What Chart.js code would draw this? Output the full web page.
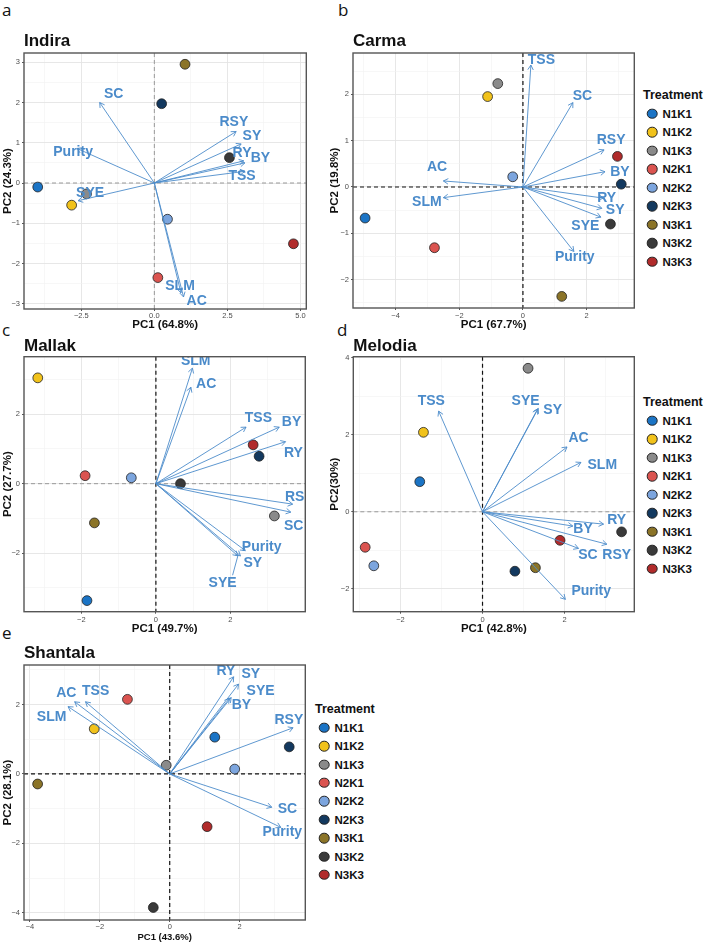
<!DOCTYPE html>
<html>
<head>
<meta charset="utf-8">
<script src="https://cdn.jsdelivr.net/npm/chart.js@4.4.1/dist/chart.umd.min.js"></script>
<style>
  body { margin: 0; background: #fff; width: 707px; height: 944px; position: relative; overflow: hidden; font-family: "Liberation Sans", Arial, sans-serif; }
  canvas { position: absolute; }
  .tag { position: absolute; font-family: "Open Sans", sans-serif; font-size: 17px; color: #111; line-height: 20px; }
  .lg-title { position: absolute; font-weight: bold; font-size: 12.5px; color: #111; white-space: nowrap; transform: translateY(-50%); }
  .lg-dot { position: absolute; width: 8.6px; height: 8.6px; border-radius: 50%; border: 0.8px solid #222; transform: translate(-50%, -50%); }
  .lg-text { position: absolute; font-weight: bold; font-size: 11.5px; color: #111; transform: translateY(-50%); white-space: nowrap; }
</style>
</head>
<body>
<div class="tag" style="left:2px;top:0px">a</div>
<div class="tag" style="left:338px;top:0px">b</div>
<div class="tag" style="left:2px;top:320px">c</div>
<div class="tag" style="left:337px;top:320px">d</div>
<div class="tag" style="left:2px;top:623px">e</div>

<canvas id="indira" width="312" height="306" style="left:0px;top:28px"></canvas>
<canvas id="carma" width="313" height="306" style="left:327px;top:28px"></canvas>
<canvas id="mallak" width="311" height="304" style="left:0px;top:334px"></canvas>
<canvas id="melodia" width="313" height="304" style="left:327px;top:334px"></canvas>
<canvas id="shantala" width="311" height="306" style="left:0px;top:638px"></canvas>

<div id="legendB"></div>
<div id="legendD"></div>
<div id="legendE"></div>

<script>
// Treatments (shared by all panels)
const treatments = ['N1K1', 'N1K2', 'N1K3', 'N2K1', 'N2K2', 'N2K3', 'N3K1', 'N3K2', 'N3K3'];
const treatmentColors = ['#1b74c5', '#f1c21b', '#8a8a8a', '#db5450', '#7ca5de', '#13395f', '#8b7428', '#3a3a3a', '#b12b2b'];

// Indira
const pcIndiraX = [-3.99, -2.83, -2.32, 0.12, 0.45, 0.25, 1.05, 2.57, 4.76];
const pcIndiraY = [-0.10, -0.55, -0.27, -2.35, -0.90, 1.97, 2.95, 0.63, -1.51];
const varsIndira = ['SC', 'Purity', 'SYE', 'RSY', 'SY', 'RY', 'BY', 'TSS', 'SLM', 'AC'];
const arrowIndiraX = [-1.87, -2.65, -2.61, 2.80, 2.97, 3.06, 3.10, 3.10, 0.91, 1.00];
const arrowIndiraY = [2.00, 0.86, -0.44, 1.28, 0.97, 0.55, 0.50, 0.29, -2.73, -2.83];
const labelIndiraX = [-1.39, -2.78, -2.20, 2.72, 3.34, 3.00, 3.63, 3.00, 0.88, 1.45];
const labelIndiraY = [2.20, 0.76, -0.25, 1.51, 1.17, 0.74, 0.61, 0.16, -2.55, -2.94];
const xTicksIndira = [-2.5, 0, 2.5, 5];
const xTickLabelsIndira = ['\u22122.5', '0.0', '2.5', '5.0'];
const yTicksIndira = [-3, -2, -1, 0, 1, 2, 3];
const yTickLabelsIndira = ['\u22123', '\u22122', '\u22121', '0', '1', '2', '3'];

// Carma
const pcCarmaX = [-4.96, -1.11, -0.79, -2.78, -0.32, 3.09, 1.22, 2.75, 2.97];
const pcCarmaY = [-0.67, 1.95, 2.23, -1.31, 0.22, 0.06, -2.36, -0.80, 0.66];
const varsCarma = ['TSS', 'SC', 'RSY', 'BY', 'RY', 'SY', 'SYE', 'Purity', 'AC', 'SLM'];
const arrowCarmaX = [0.25, 1.57, 2.55, 2.58, 2.53, 2.48, 2.45, 1.60, -2.50, -2.50];
const arrowCarmaY = [2.63, 1.82, 0.80, 0.33, -0.24, -0.46, -0.65, -1.39, 0.13, -0.23];
const labelCarmaX = [0.58, 1.87, 2.77, 3.05, 2.63, 2.90, 1.96, 1.63, -2.70, -3.02];
const labelCarmaY = [2.74, 1.95, 1.00, 0.33, -0.23, -0.50, -0.85, -1.52, 0.42, -0.33];
const xTicksCarma = [-4, -2, 0, 2];
const xTickLabelsCarma = ['\u22124', '\u22122', '0', '2'];
const yTicksCarma = [-2, -1, 0, 1, 2];
const yTickLabelsCarma = ['\u22122', '\u22121', '0', '1', '2'];

// Mallak
const pcMallakX = [-1.85, -3.17, 3.18, -1.90, -0.66, 2.77, -1.65, 0.66, 2.61];
const pcMallakY = [-3.37, 3.05, -0.93, 0.23, 0.17, 0.79, -1.13, 0.00, 1.12];
const varsMallak = ['SLM', 'AC', 'TSS', 'BY', 'RY', 'RSY', 'SC', 'Purity', 'SY', 'SYE'];
const arrowMallakX = [0.98, 0.94, 2.42, 3.31, 3.48, 3.67, 3.62, 2.40, 2.27, 2.20];
const arrowMallakY = [3.33, 2.78, 1.63, 1.63, 1.21, -0.59, -0.82, -1.93, -2.08, -2.08];
const labelMallakX = [1.07, 1.35, 2.75, 3.64, 3.69, 3.85, 3.70, 2.84, 2.60, 1.79];
const labelMallakY = [3.52, 2.86, 1.88, 1.77, 0.89, -0.39, -1.21, -1.82, -2.29, -2.87];
const xTicksMallak = [-2, 0, 2];
const xTickLabelsMallak = ['\u22122', '0', '2'];
const yTicksMallak = [-2, 0, 2];
const yTickLabelsMallak = ['\u22122', '0', '2'];

// Melodia
const pcMelodiaX = [-1.53, -1.44, 1.11, -2.86, -2.65, 0.79, 1.29, 3.39, 1.89];
const pcMelodiaY = [0.78, 2.06, 3.72, -0.92, -1.40, -1.54, -1.45, -0.52, -0.74];
const varsMelodia = ['TSS', 'SYE', 'SY', 'AC', 'SLM', 'RY', 'BY', 'RSY', 'SC', 'Purity'];
const arrowMelodiaX = [-1.07, 1.34, 1.36, 2.06, 2.40, 2.95, 2.20, 3.03, 2.34, 2.02];
const arrowMelodiaY = [2.61, 2.66, 2.68, 1.68, 1.28, -0.32, -0.37, -0.84, -0.95, -2.27];
const labelMelodiaX = [-1.25, 1.05, 1.71, 2.34, 2.92, 3.27, 2.45, 3.27, 2.57, 2.65];
const labelMelodiaY = [2.87, 2.87, 2.63, 1.92, 1.21, -0.22, -0.46, -1.12, -1.12, -2.05];
const xTicksMelodia = [-2, 0, 2];
const xTickLabelsMelodia = ['\u22122', '0', '2'];
const yTicksMelodia = [-2, 0, 2, 4];
const yTickLabelsMelodia = ['\u22122', '0', '2', '4'];

// Shantala
const pcShantalaX = [1.29, -2.16, -0.10, -1.21, 1.86, 3.42, -3.78, -0.47, 1.07];
const pcShantalaY = [1.06, 1.30, 0.25, 2.15, 0.14, 0.78, -0.29, -3.85, -1.52];
const varsShantala = ['AC', 'TSS', 'SLM', 'RY', 'SY', 'SYE', 'BY', 'RSY', 'SC', 'Purity'];
const arrowShantalaX = [-2.72, -2.41, -2.91, 1.83, 1.97, 1.76, 1.71, 3.53, 2.92, 3.18];
const arrowShantalaY = [2.08, 2.08, 1.94, 2.80, 2.59, 2.20, 2.18, 1.33, -0.96, -1.54];
const labelShantalaX = [-2.96, -2.12, -3.38, 1.61, 2.32, 2.60, 2.05, 3.41, 3.37, 3.22];
const labelShantalaY = [2.33, 2.39, 1.65, 2.95, 2.87, 2.40, 1.97, 1.56, -1.01, -1.69];
const xTicksShantala = [-4, -2, 0, 2];
const xTickLabelsShantala = ['\u22124', '\u22122', '0', '2'];
const yTicksShantala = [-4, -2, 0, 2];
const yTickLabelsShantala = ['\u22124', '\u22122', '0', '2'];

const FONT = '"Liberation Sans", Arial, sans-serif';
const ARROW_COLOR = '#4d8ccb';
const LABEL_COLOR = '#4b8bca';

// major + minor (half-step) ticks, minors carry no label
function gridTicks(majors, min, max) {
    const step = majors[1] - majors[0];
    const out = [];
    for (let v = majors[0] - step; v <= majors[majors.length - 1] + step + 1e-9; v += step / 2) {
        if (v >= min - 1e-9 && v <= max + 1e-9) {
            out.push({ value: v, isMajor: majors.some(m => Math.abs(m - v) < 1e-6) });
        }
    }
    return out;
}

// zero lines, arrows, labels and panel border
const biplotPlugin = {
    id: 'biplot',
    beforeDatasetsDraw(chart, args, o) {
        const { ctx, chartArea: a, scales: { x, y } } = chart;
        ctx.save();
        ctx.beginPath();
        ctx.rect(a.left, a.top, a.right - a.left, a.bottom - a.top);
        ctx.clip();
        ctx.setLineDash([4, 3]);
        const x0 = x.getPixelForValue(0);
        const y0 = y.getPixelForValue(0);
        ctx.lineWidth = o.vColor === '#111' ? 1.2 : 1;
        ctx.strokeStyle = o.vColor;
        ctx.beginPath(); ctx.moveTo(x0, a.top); ctx.lineTo(x0, a.bottom); ctx.stroke();
        ctx.lineWidth = o.hColor === '#111' ? 1.2 : 1;
        ctx.strokeStyle = o.hColor;
        ctx.beginPath(); ctx.moveTo(a.left, y0); ctx.lineTo(a.right, y0); ctx.stroke();
        ctx.restore();
    },
    afterDatasetsDraw(chart, args, o) {
        const { ctx, chartArea: a, scales: { x, y } } = chart;
        const x0 = x.getPixelForValue(0);
        const y0 = y.getPixelForValue(0);
        ctx.save();
        ctx.beginPath();
        ctx.rect(a.left, a.top, a.right - a.left, a.bottom - a.top);
        ctx.clip();
        ctx.strokeStyle = ARROW_COLOR;
        ctx.lineWidth = 0.9;
        o.vars.forEach((v, i) => {
            const x1 = x.getPixelForValue(o.ax[i]);
            const y1 = y.getPixelForValue(o.ay[i]);
            const ang = Math.atan2(y1 - y0, x1 - x0);
            const len = 5.5;
            ctx.beginPath();
            ctx.moveTo(x0, y0);
            ctx.lineTo(x1, y1);
            ctx.moveTo(x1 - len * Math.cos(ang - Math.PI / 6), y1 - len * Math.sin(ang - Math.PI / 6));
            ctx.lineTo(x1, y1);
            ctx.lineTo(x1 - len * Math.cos(ang + Math.PI / 6), y1 - len * Math.sin(ang + Math.PI / 6));
            ctx.stroke();
            if ((o.segments || []).includes(v)) {
                ctx.beginPath();
                ctx.moveTo(x1, y1);
                ctx.lineTo(x.getPixelForValue(o.lx[i]) + 10, y.getPixelForValue(o.ly[i]) - 8);
                ctx.stroke();
            }
        });
        ctx.fillStyle = LABEL_COLOR;
        ctx.font = 'bold 14px ' + FONT;
        ctx.textAlign = 'center';
        ctx.textBaseline = 'middle';
        o.vars.forEach((v, i) => {
            ctx.fillText(v, x.getPixelForValue(o.lx[i]), y.getPixelForValue(o.ly[i]));
        });
        ctx.restore();
    },
    afterDraw(chart) {
        const { ctx, chartArea: a } = chart;
        ctx.save();
        ctx.strokeStyle = '#555';
        ctx.lineWidth = 1.4;
        ctx.strokeRect(a.left, a.top, a.right - a.left, a.bottom - a.top);
        ctx.restore();
    }
};

function makeBiplot(id, p) {
    const ctx = document.getElementById(id).getContext('2d');
    const tickLabel = (majors, labels) => function (value) {
        const i = majors.findIndex(m => Math.abs(m - value) < 1e-6);
        return i >= 0 ? labels[i] : '';
    };
    const gridOpts = {
        color: c => (c.tick && c.tick.isMajor ? '#e4e4e4' : '#f1f1f1'),
        lineWidth: c => (c.tick && c.tick.isMajor ? 0.9 : 0.6),
        tickColor: c => (c.tick && c.tick.isMajor ? '#444' : 'rgba(0,0,0,0)'),
        tickLength: 2,
        drawOnChartArea: true
    };
    return new Chart(ctx, {
        type: 'scatter',
        data: {
            datasets: [{
                label: 'Treatment',
                data: p.px.map((v, i) => ({ x: v, y: p.py[i] })),
                backgroundColor: treatmentColors,
                borderColor: '#222',
                borderWidth: 0.8,
                pointRadius: 4.9,
                pointHoverRadius: 4.9
            }]
        },
        options: {
            responsive: false,
            animation: false,
            events: [],
            layout: { padding: { left: 0, right: p.padRight, top: 0, bottom: 0 } },
            plugins: {
                legend: { display: false },
                tooltip: { enabled: false },
                title: {
                    display: true,
                    text: p.title,
                    align: 'start',
                    fullSize: false,
                    color: '#111',
                    font: { family: FONT, size: 17, weight: 'bold', lineHeight: 1.2 },
                    padding: p.titlePad
                },
                biplot: {
                    vars: p.vars, ax: p.ax, ay: p.ay, lx: p.lx, ly: p.ly,
                    vColor: p.vColor, hColor: p.hColor, segments: p.segments
                }
            },
            scales: {
                x: {
                    type: 'linear',
                    min: p.xRange[0],
                    max: p.xRange[1],
                    afterBuildTicks: s => { s.ticks = gridTicks(p.xTicks, p.xRange[0], p.xRange[1]); },
                    afterFit: s => { s.height = p.xAxisH; s.paddingLeft = 0; s.paddingRight = 0; },
                    ticks: {
                        autoSkip: false, maxRotation: 0, padding: p.xTickPad, color: '#4d4d4d',
                        font: { family: FONT, size: 7.5 },
                        callback: tickLabel(p.xTicks, p.xTickLabels)
                    },
                    grid: gridOpts,
                    border: { display: false },
                    title: {
                        display: true, text: p.xTitle, color: '#111',
                        font: { family: FONT, size: p.xTitleSize, weight: 'bold', lineHeight: 1.2 },
                        padding: { top: 0, bottom: p.xTitlePadB }
                    }
                },
                y: {
                    type: 'linear',
                    min: p.yRange[0],
                    max: p.yRange[1],
                    afterBuildTicks: s => { s.ticks = gridTicks(p.yTicks, p.yRange[0], p.yRange[1]); },
                    afterFit: s => { s.width = p.yAxisW; s.paddingTop = 0; s.paddingBottom = 0; },
                    ticks: {
                        autoSkip: false, padding: 2, color: '#4d4d4d',
                        font: { family: FONT, size: 7.5 },
                        callback: tickLabel(p.yTicks, p.yTickLabels)
                    },
                    grid: gridOpts,
                    border: { display: false },
                    title: {
                        display: true, text: p.yTitle, color: '#111',
                        font: { family: FONT, size: 11.5, weight: 'bold', lineHeight: 1.2 },
                        padding: { top: 1, bottom: 0 }
                    }
                }
            }
        },
        plugins: [biplotPlugin]
    });
}

makeBiplot('indira', {
    title: 'Indira', titlePad: { top: 3.6, bottom: 1 },
    px: pcIndiraX, py: pcIndiraY, vars: varsIndira,
    ax: arrowIndiraX, ay: arrowIndiraY, lx: labelIndiraX, ly: labelIndiraY,
    xRange: [-4.46, 5.2], yRange: [-3.13, 3.23],
    xTicks: xTicksIndira, xTickLabels: xTickLabelsIndira, yTicks: yTicksIndira, yTickLabels: yTickLabelsIndira,
    xTitle: 'PC1 (64.8%)', yTitle: 'PC2 (24.3%)', xTitleSize: 11.5, xTitlePadB: 2.1,
    xAxisH: 25, yAxisW: 24, padRight: 4, xTickPad: 0,
    vColor: '#999', hColor: '#999'
});

makeBiplot('carma', {
    title: 'Carma', titlePad: { top: 3.6, bottom: 1 },
    px: pcCarmaX, py: pcCarmaY, vars: varsCarma,
    ax: arrowCarmaX, ay: arrowCarmaY, lx: labelCarmaX, ly: labelCarmaY,
    xRange: [-5.34, 3.5], yRange: [-2.61, 2.89],
    xTicks: xTicksCarma, xTickLabels: xTickLabelsCarma, yTicks: yTicksCarma, yTickLabels: yTickLabelsCarma,
    xTitle: 'PC1 (67.7%)', yTitle: 'PC2 (19.8%)', xTitleSize: 11.5, xTitlePadB: 2.1,
    xAxisH: 26, yAxisW: 26, padRight: 4, xTickPad: 1,
    vColor: '#111', hColor: '#111'
});

makeBiplot('mallak', {
    title: 'Mallak', titlePad: { top: 2.3, bottom: 0 },
    px: pcMallakX, py: pcMallakY, vars: varsMallak,
    ax: arrowMallakX, ay: arrowMallakY, lx: labelMallakX, ly: labelMallakY,
    xRange: [-3.54, 4.01], yRange: [-3.69, 3.66],
    xTicks: xTicksMallak, xTickLabels: xTickLabelsMallak, yTicks: yTicksMallak, yTickLabels: yTickLabelsMallak,
    xTitle: 'PC1 (49.7%)', yTitle: 'PC2 (27.7%)', xTitleSize: 11.5, xTitlePadB: 1.8,
    xAxisH: 26.3, yAxisW: 24, padRight: 4, xTickPad: 2,
    vColor: '#111', hColor: '#999', segments: ['SYE']
});

makeBiplot('melodia', {
    title: 'Melodia', titlePad: { top: 2.3, bottom: 0 },
    px: pcMelodiaX, py: pcMelodiaY, vars: varsMelodia,
    ax: arrowMelodiaX, ay: arrowMelodiaY, lx: labelMelodiaX, ly: labelMelodiaY,
    xRange: [-3.15, 3.7], yRange: [-2.59, 4.02],
    xTicks: xTicksMelodia, xTickLabels: xTickLabelsMelodia, yTicks: yTicksMelodia, yTickLabels: yTickLabelsMelodia,
    xTitle: 'PC1 (42.8%)', yTitle: 'PC2(30%)', xTitleSize: 11.5, xTitlePadB: 1.8,
    xAxisH: 26.3, yAxisW: 26.3, padRight: 4, xTickPad: 2,
    vColor: '#111', hColor: '#999'
});

makeBiplot('shantala', {
    title: 'Shantala', titlePad: { top: 5, bottom: 1.6 },
    px: pcShantalaX, py: pcShantalaY, vars: varsShantala,
    ax: arrowShantalaX, ay: arrowShantalaY, lx: labelShantalaX, ly: labelShantalaY,
    xRange: [-4.17, 3.88], yRange: [-4.21, 3.14],
    xTicks: xTicksShantala, xTickLabels: xTickLabelsShantala, yTicks: yTicksShantala, yTickLabels: yTickLabelsShantala,
    xTitle: 'PC1 (43.6%)', yTitle: 'PC2 (28.1%)', xTitleSize: 9.5, xTitlePadB: 1,
    xAxisH: 24, yAxisW: 24, padRight: 3.7, xTickPad: 0,
    vColor: '#111', hColor: '#111'
});

// Legends ("Treatment")
function buildLegend(elId, left, titleY, firstY, step) {
    const el = document.getElementById(elId);
    let html = `<div class="lg-title" style="left:${left}px;top:${titleY}px">Treatment</div>`;
    treatments.forEach((t, i) => {
        const yy = firstY + i * step;
        html += `<div class="lg-dot" style="left:${left + 9}px;top:${yy}px;background:${treatmentColors[i]}"></div>`;
        html += `<div class="lg-text" style="left:${left + 19.5}px;top:${yy}px">${t}</div>`;
    });
    el.innerHTML = html;
}
buildLegend('legendB', 643, 95, 113.5, 18.5);
buildLegend('legendD', 643, 401.7, 420.7, 18.5);
buildLegend('legendE', 315, 709.3, 727.7, 18.4);
</script>
</body>
</html>
